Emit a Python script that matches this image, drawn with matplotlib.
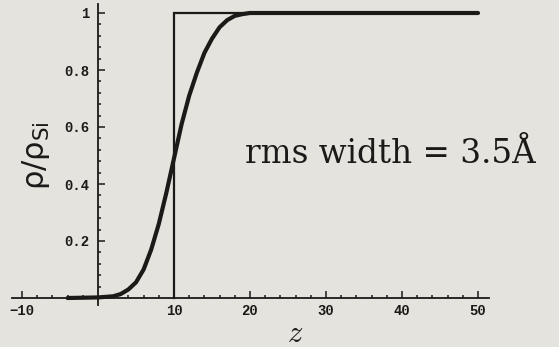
import numpy as np
import matplotlib.pyplot as plt
from matplotlib.ticker import FixedLocator, FixedFormatter

# smooth interface profile, rho/rho_Si vs z
z_prof = [-4, 0, 2, 3, 4, 5, 6, 7, 8, 9, 10, 11, 12, 13, 14, 15, 16, 17, 18, 19, 20, 22, 25, 30, 40, 50]
rho_prof = [0.0, 0.002, 0.006, 0.014, 0.03, 0.055, 0.1, 0.17, 0.26, 0.37, 0.49, 0.61, 0.71, 0.79,
            0.86, 0.91, 0.95, 0.975, 0.99, 0.996, 1.0, 1.0, 1.0, 1.0, 1.0, 1.0]

# sharp step interface at z = 10
z_step = [10, 10, 50]
rho_step = [0.0, 1.0, 1.0]

x_ticks = [-10, 10, 20, 30, 40, 50]
y_ticks = [0.2, 0.4, 0.6, 0.8, 1.0]
y_labels = ['0.2', '0.4', '0.6', '0.8', '1']

paper = '#e5e3de'
ink = '#1c1a18'

fig = plt.figure(figsize=(5.59, 3.47), dpi=100, facecolor=paper)
ax = fig.add_axes([0, 0, 1, 1], facecolor=paper)

# pixel mapping: x = 98 + 7.6 z, y = 298 - 285 rho
ax.set_xlim(-98 / 7.6, (559 - 98) / 7.6)
ax.set_ylim(-(347 - 298) / 285, 298 / 285)

ax.plot(z_step, rho_step, color=ink, lw=1.6, solid_joinstyle='miter')
ax.plot(z_prof, rho_prof, color=ink, lw=3.0, solid_capstyle='round')

# axes crossing at the origin
for s in ['top', 'right']:
    ax.spines[s].set_visible(False)
ax.spines['left'].set_position(('data', 0))
ax.spines['bottom'].set_position(('data', 0))
ax.spines['left'].set_bounds(-0.025, 1.03)
ax.spines['bottom'].set_bounds(-11.3, 51.4)
for s in ['left', 'bottom']:
    ax.spines[s].set_color(ink)
    ax.spines[s].set_linewidth(1.3)

# minor ticks only inside the drawn axis lines
x_minor = [v for v in range(-10, 51, 2) if v % 10 != 0]
y_minor = [round(v * 0.04, 2) for v in range(1, 26) if v % 5 != 0]

ax.xaxis.set_major_locator(FixedLocator(x_ticks))
ax.xaxis.set_minor_locator(FixedLocator(x_minor))
ax.yaxis.set_major_locator(FixedLocator(y_ticks))
ax.yaxis.set_major_formatter(FixedFormatter(y_labels))
ax.yaxis.set_minor_locator(FixedLocator(y_minor))

ax.tick_params(which='both', direction='in', color=ink, width=1.1)
ax.tick_params(which='major', length=5)
ax.tick_params(which='minor', length=2.5)
ax.tick_params(axis='x', pad=4)
ax.tick_params(axis='y', pad=6)
for lab in ax.get_xticklabels() + ax.get_yticklabels():
    lab.set_family('Liberation Mono')
    lab.set_fontweight('bold')
    lab.set_fontsize(10)
    lab.set_color(ink)

ax.text(26, -0.125, '$z$', math_fontfamily='cm', fontsize=22, color=ink,
        ha='center', va='center')
ax.text(-8.2, 0.5, 'ρ/ρ$_{\\mathrm{Si}}$', fontsize=22, color=ink, rotation=90,
        ha='center', va='center', family='DejaVu Sans')
ax.text(19.4, 0.475, 'rms width = 3.5Å', family='DejaVu Serif',
        fontsize=23.5, color=ink, ha='left', va='baseline')

fig.savefig('out.png', dpi=100, facecolor=paper)
